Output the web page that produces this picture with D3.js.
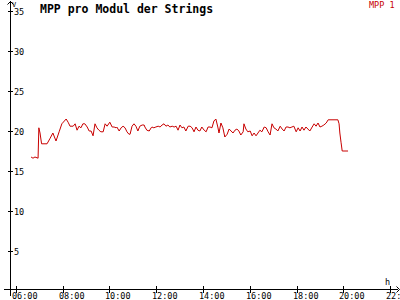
<!DOCTYPE html>
<html><head><meta charset="utf-8">
<script src="https://cdn.jsdelivr.net/npm/d3@7"></script>
<style>
html,body{margin:0;padding:0;background:#fff;}
svg{display:block;}
text{font-family:"DejaVu Sans Mono","Liberation Mono",monospace;}
</style></head>
<body><svg id="c" width="400" height="300"></svg>
<script>
const title = "MPP pro Modul der Strings";
const seriesName = "MPP 1";
const yUnit = "V";
const xUnit = "h";
const yTicks = [5, 10, 15, 20, 25, 30, 35];
const xTickLabels = ["06:00","08:00","10:00","12:00","14:00","16:00","18:00","20:00","22:00"];
const times = ["06:39","06:44","06:49","06:57","06:59","07:02","07:06","07:20","07:28","07:35","07:43","07:51","07:58",
"08:09","08:14","08:19","08:27","08:32","08:37","08:42","08:47","08:52","08:57","09:03","09:08","09:13","09:18","09:23",
"09:28","09:33","09:38","09:44","09:49","09:54","10:01","10:07","10:12","10:17","10:19","10:25","10:30","10:35","10:40",
"10:45","10:50","10:53","10:58","11:03","11:08","11:13","11:18","11:24","11:29","11:31","11:36","11:42","11:47","11:49",
"11:54","11:59","12:05","12:10","12:15","12:20","12:25","12:30","12:35","12:41","12:46","12:51","12:56","13:01","13:06",
"13:11","13:16","13:22","13:27","13:32","13:37","13:42","13:47","13:52","13:57","14:03","14:08","14:13","14:18","14:23",
"14:28","14:33","14:38","14:41","14:46","14:51","14:56","15:02","15:07","15:12","15:17","15:22","15:27","15:32","15:37",
"15:43","15:45","15:50","15:55","16:01","16:06","16:11","16:16","16:21","16:26","16:31","16:37","16:42","16:47","16:52",
"16:57","17:02","17:07","17:12","17:18","17:23","17:28","17:33","17:38","17:43","17:48","17:53","17:59","18:04","18:09",
"18:14","18:19","18:24","18:29","18:34","18:40","18:45","18:50","18:55","19:00","19:05","19:10","19:16","19:21","19:46",
"19:49","19:51","19:54","19:57","20:12"];
const values = [16.75,16.6,16.75,16.6,20.4,19.75,18.4,18.4,19.1,19.75,18.75,19.9,20.9,
21.5,21.1,20.6,20.6,20.9,20.1,20.6,20.4,20.9,20.9,20.5,20.0,20.0,19.4,20.9,
20.4,20.1,19.9,19.9,20.9,20.6,21.1,20.5,20.5,20.4,20.5,20.0,20.4,20.6,20.4,
19.9,19.6,19.6,20.6,20.9,20.6,20.0,20.6,20.75,20.75,20.5,20.1,20.0,20.4,20.5,
20.4,20.5,20.6,20.5,20.75,20.9,20.6,20.75,20.5,20.6,20.5,20.6,20.1,20.75,20.4,
20.5,20.0,20.6,20.6,20.4,19.9,20.5,20.1,20.0,20.5,20.1,19.9,20.5,20.5,20.4,
21.25,21.5,20.5,19.75,21.0,20.4,19.25,19.6,20.25,20.0,19.75,20.1,20.25,20.0,19.5,
19.9,20.9,20.25,19.9,20.0,19.4,19.75,19.4,19.75,20.1,19.9,20.5,20.4,19.9,19.5,
20.9,20.4,20.25,20.0,20.6,20.25,20.0,20.5,20.5,20.4,20.5,20.6,19.9,20.4,20.0,
20.5,20.1,20.5,20.25,20.0,20.5,20.9,20.6,21.0,20.5,20.6,20.75,21.0,21.4,21.4,
20.9,19.75,18.6,17.5,17.5];

const toH = s => { const [h,m] = s.split(":").map(Number); return h + m/60; };
const data = times.map((t,i) => ({x: toH(t), y: values[i]}));

const svg = d3.select("#c");
const red = "#c80000";
const x = d3.scaleLinear().domain([5.75, 22.25]).range([10, 396]);
const y = d3.scaleLinear().domain([0, 35]).range([291, 11]);

const axisX = 10.5, axisY = 289.5;

svg.append("line").attr("x1",axisX).attr("x2",axisX).attr("y1",1).attr("y2",296).attr("stroke","#000");
svg.append("line").attr("x1",4).attr("x2",398).attr("y1",axisY).attr("y2",axisY).attr("stroke","#000");
svg.append("path").attr("d",`M${axisX-3},4.5 L${axisX},1.5 L${axisX+3},4.5`).attr("fill","none").attr("stroke","#000");
svg.append("path").attr("d",`M396.5,${axisY-3} L399.5,${axisY} L396.5,${axisY+3}`).attr("fill","none").attr("stroke","#000");

const yg = svg.append("g");
yTicks.forEach(v => {
  const py = Math.round(y(v)) + 0.5;
  yg.append("line").attr("x1",8).attr("x2",13).attr("y1",py).attr("y2",py).attr("stroke","#000");
  yg.append("text").attr("x",14).attr("y",py+3).attr("font-size",8.5).attr("fill","#000").text(v);
});
const xg = svg.append("g");
xTickLabels.forEach(l => {
  const px = Math.round(x(toH(l))) + 0.5;
  xg.append("line").attr("x1",px).attr("x2",px).attr("y1",286).attr("y2",293).attr("stroke","#000");
  xg.append("text").attr("x",px-4.5).attr("y",299).attr("font-size",8.5).attr("fill","#000").text(l);
});

svg.append("text").attr("x",12).attr("y",7).attr("font-size",7).text(yUnit);
svg.append("text").attr("x",385).attr("y",285).attr("font-size",8.5).text(xUnit);

svg.append("text").attr("x",40).attr("y",13).attr("font-size",11.5).attr("font-weight","bold").attr("fill","#000").text(title);
svg.append("text").attr("x",369).attr("y",8).attr("font-size",8.5).attr("fill",red).text(seriesName);

const line = d3.line().x(d => x(d.x)).y(d => y(d.y));
svg.append("path").datum(data).attr("d",line).attr("fill","none").attr("stroke",red).attr("stroke-width",1);
</script></body></html>
